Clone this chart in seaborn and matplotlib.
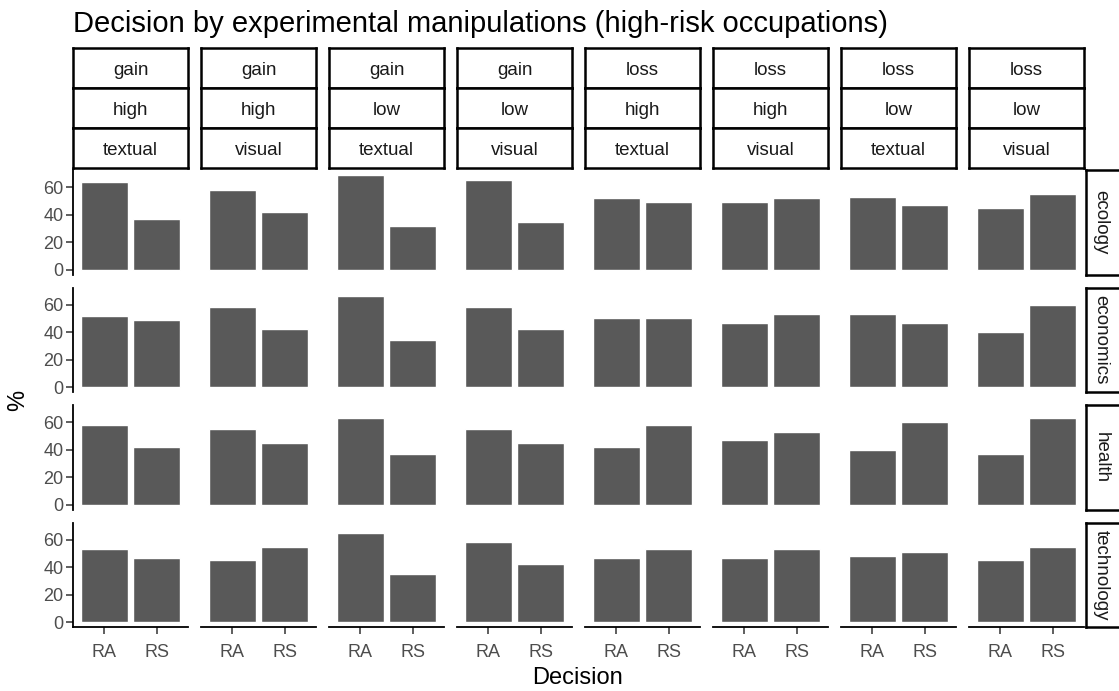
import pandas as pd
import numpy as np
import matplotlib
matplotlib.use("Agg")
import matplotlib.pyplot as plt
import seaborn as sns

# facet levels
frames = ["gain", "gain", "gain", "gain", "loss", "loss", "loss", "loss"]
levels = ["high", "high", "low", "low", "high", "high", "low", "low"]
formats = ["textual", "visual", "textual", "visual", "textual", "visual", "textual", "visual"]
occupations = ["ecology", "economics", "health", "technology"]
decisions = ["RA", "RS"]

# % per panel (one list per occupation, 8 columns)
ra_ecology = [64, 58, 69, 65, 52, 49, 53, 45]
rs_ecology = [37, 42, 32, 35, 49, 52, 47, 55]
ra_economics = [52, 58, 66, 58, 50, 47, 53, 40]
rs_economics = [49, 42, 34, 42, 50, 53, 47, 60]
ra_health = [58, 55, 63, 55, 42, 47, 40, 37]
rs_health = [42, 45, 37, 45, 58, 53, 60, 63]
ra_technology = [53, 45, 65, 58, 47, 47, 48, 45]
rs_technology = [47, 55, 35, 42, 53, 53, 51, 55]

ra_vals = [ra_ecology, ra_economics, ra_health, ra_technology]
rs_vals = [rs_ecology, rs_economics, rs_health, rs_technology]

rows = []
for r, occ in enumerate(occupations):
    for c in range(8):
        rows.append((occ, c, "RA", ra_vals[r][c]))
        rows.append((occ, c, "RS", rs_vals[r][c]))
df = pd.DataFrame(rows, columns=["occupation", "col", "Decision", "pct"])

sns.set_theme(style="white")
plt.rcParams["font.family"] = ["Liberation Sans", "DejaVu Sans"]

W, H = 1119, 691
fig = plt.figure(figsize=(W / 100, H / 100), dpi=100)

# layout in pixels
left0, pw, gap_x = 73, 115, 13
top0, ph, gap_y = 170, 104.5, 13
strip_top, strip_h = 48, 40
tick_col = "#4D4D4D"
txt_col = "#1A1A1A"

def px_axes(x, y, w, h):
    return fig.add_axes([x / W, 1 - (y + h) / H, w / W, h / H])

ymax = df["pct"].max() * 1.05
ymin = -df["pct"].max() * 0.05

for r, occ in enumerate(occupations):
    for c in range(8):
        x = left0 + c * (pw + gap_x)
        y = top0 + r * (ph + gap_y)
        ax = px_axes(x, y, pw, ph)
        sub = df[(df["occupation"] == occ) & (df["col"] == c)]
        sns.barplot(data=sub, x="Decision", y="pct", order=decisions, ax=ax,
                    color="#595959", saturation=1, width=0.9, errorbar=None)
        ax.set_xlim(-0.6, 1.6)
        ax.set_ylim(ymin, ymax)
        ax.set_xlabel("")
        ax.set_ylabel("")
        ax.set_facecolor("white")
        for s in ax.spines.values():
            s.set_visible(False)
        if c == 0:
            ax.spines["left"].set_visible(True)
            ax.spines["left"].set_color("black")
            ax.spines["left"].set_linewidth(1.3)
            ax.set_yticks([0, 20, 40, 60])
            ax.tick_params(axis="y", length=5, width=1.1, color="#333333",
                           labelsize=13, labelcolor=tick_col, pad=2, left=True)
        else:
            ax.set_yticks([])
        if r == len(occupations) - 1:
            ax.spines["bottom"].set_visible(True)
            ax.spines["bottom"].set_color("black")
            ax.spines["bottom"].set_linewidth(1.3)
            ax.tick_params(axis="x", length=5, width=1.1, color="#333333",
                           labelsize=13, labelcolor=tick_col, pad=7, bottom=True)
        else:
            ax.set_xticks([])

        # top strips
        if r == 0:
            for k, lab in enumerate([frames[c], levels[c], formats[c]]):
                sax = px_axes(x, strip_top + k * strip_h, pw, strip_h)
                sax.set_xticks([])
                sax.set_yticks([])
                sax.set_facecolor("white")
                for s in sax.spines.values():
                    s.set_color("black")
                    s.set_linewidth(1.8)
                sax.text(0.5, 0.44, lab, ha="center", va="center",
                         fontsize=13.5, color=txt_col, transform=sax.transAxes)

    # right strip
    y = top0 + r * (ph + gap_y)
    rax = px_axes(left0 + 8 * pw + 7 * gap_x + 2, y, 36, ph)
    rax.set_xticks([])
    rax.set_yticks([])
    rax.set_facecolor("white")
    for s in rax.spines.values():
        s.set_color("black")
        s.set_linewidth(1.8)
    rax.text(0.42, 0.5, occ, ha="center", va="center", rotation=-90,
             fontsize=13.5, color=txt_col, transform=rax.transAxes)

fig.text(73 / W, 1 - 24 / H, "Decision by experimental manipulations (high-risk occupations)",
         ha="left", va="center", fontsize=21, color="black")
fig.text(578 / W, 1 - 678 / H, "Decision", ha="center", va="center", fontsize=17, color="black")
fig.text(18 / W, 1 - 400 / H, "%", ha="center", va="center", rotation=90, fontsize=17, color="black")

fig.savefig("out.png", dpi=100, facecolor="white")
